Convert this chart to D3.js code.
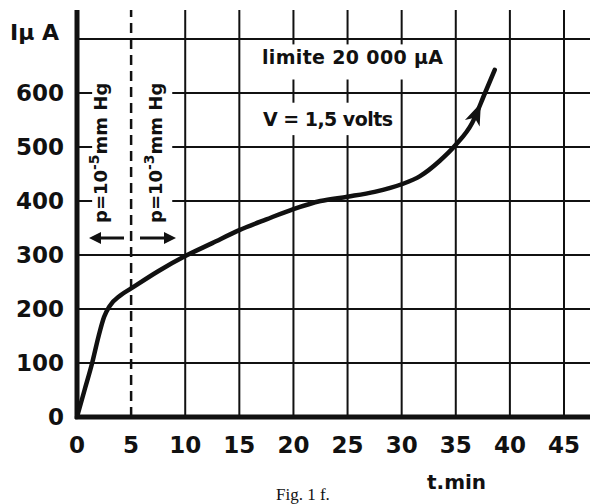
<!DOCTYPE html>
<html>
<head>
<meta charset="utf-8">
<script src="https://cdn.jsdelivr.net/npm/d3@7"></script>
<style>
  body { margin: 0; background: #fff; }
  svg { display: block; }
  text { fill: #111; }
</style>
</head>
<body>
<svg id="chart" width="590" height="504"></svg>
<script>
// courbe I (µA) en fonction de t (min)
var tMin = [0, 0.7, 1.4, 2.0, 2.5, 3.0, 4.0, 5, 7.5, 10, 12.5, 15, 17.5, 20, 22.5, 25, 27.5, 30, 31.7, 33.5, 35, 36.5, 37.7, 38.6];
var iMicroA = [0, 50, 100, 150, 185, 205, 225, 238, 270, 298, 322, 346, 366, 385, 400, 408, 417, 431, 446, 474, 504, 544, 600, 643];

var xTicks = [0, 5, 10, 15, 20, 25, 30, 35, 40, 45];
var yTicks = [0, 100, 200, 300, 400, 500, 600];
var xGrid = [10, 15, 20, 25, 30, 35, 40, 45];
var yGrid = [100, 200, 300, 400, 500, 600, 700];
var pressureLimit = 5;

var svg = d3.select("#chart");
var ink = "#111";

var x = d3.scaleLinear().domain([0, 45]).range([77, 564]);
var y = d3.scaleLinear().domain([0, 600]).range([417, 93]);

var xMax = x.invert(590), yMax = y.invert(10);

// grille
var grid = svg.append("g").attr("stroke", ink).attr("stroke-width", 2);
grid.selectAll("line.v").data(xGrid).enter().append("line")
    .attr("x1", function(d) { return x(d); }).attr("x2", function(d) { return x(d); })
    .attr("y1", y(0)).attr("y2", y(yMax));
grid.selectAll("line.h").data(yGrid).enter().append("line")
    .attr("x1", x(0)).attr("x2", x(xMax))
    .attr("y1", function(d) { return y(d); }).attr("y2", function(d) { return y(d); });

// fonds blancs derriere les textes
function whiteBox(x0, y0, x1, y1) {
    svg.append("rect").attr("x", x0).attr("y", y0)
        .attr("width", x1 - x0).attr("height", y1 - y0).attr("fill", "#fff");
}
whiteBox(x(1.4), y(655), x(8.8), y(318));
whiteBox(x(16.5), y(690), x(34.3), y(625));
whiteBox(x(16.5), y(582), x(29.3), y(522));

// limite de pression en tirets
svg.append("line")
    .attr("x1", x(pressureLimit)).attr("x2", x(pressureLimit))
    .attr("y1", y(0)).attr("y2", y(yMax))
    .attr("stroke", ink).attr("stroke-width", 2.5)
    .attr("stroke-dasharray", "10,6");

// axes epais
svg.append("line").attr("x1", x(0)).attr("x2", x(0))
    .attr("y1", y(0) + 2).attr("y2", y(yMax))
    .attr("stroke", ink).attr("stroke-width", 5);
svg.append("line").attr("x1", x(0) - 2).attr("x2", x(xMax))
    .attr("y1", y(0)).attr("y2", y(0))
    .attr("stroke", ink).attr("stroke-width", 5);

// graduations
var tickFont = "'DejaVu Sans', sans-serif";
svg.append("g").selectAll("text").data(xTicks).enter().append("text")
    .attr("x", function(d) { return x(d); })
    .attr("y", y(0) + 36)
    .attr("text-anchor", "middle")
    .attr("font-family", tickFont).attr("font-weight", "bold").attr("font-size", 23)
    .text(function(d) { return d; });
svg.append("g").selectAll("text").data(yTicks).enter().append("text")
    .attr("x", 64)
    .attr("y", function(d) { return y(d) + 8; })
    .attr("text-anchor", "end")
    .attr("font-family", tickFont).attr("font-weight", "bold").attr("font-size", 23)
    .text(function(d) { return d; });

// titres des axes
svg.append("text").attr("x", 10).attr("y", 40)
    .attr("font-family", tickFont).attr("font-weight", "bold").attr("font-size", 22)
    .text("Iµ A");
svg.append("text").attr("x", 427).attr("y", 489)
    .attr("font-family", tickFont).attr("font-weight", "bold").attr("font-size", 20)
    .text("t.min");
svg.append("text").attr("x", 276).attr("y", 500)
    .attr("font-family", "'Liberation Serif', serif").attr("font-size", 17)
    .text("Fig. 1 f.");

// textes de l'experience
svg.append("text").attr("x", 262).attr("y", 64)
    .attr("font-family", tickFont).attr("font-weight", "bold").attr("font-size", 19)
    .attr("textLength", 181)
    .text("limite 20 000 µA");
svg.append("text").attr("x", 263).attr("y", 126)
    .attr("font-family", tickFont).attr("font-weight", "bold").attr("font-size", 19)
    .attr("textLength", 130)
    .text("V = 1,5 volts");

function pressureLabel(cx, expo) {
    var t = svg.append("text")
        .attr("transform", "translate(" + cx + "," + 223 + ") rotate(-90)")
        .attr("font-family", tickFont).attr("font-weight", "bold").attr("font-size", 18);
    t.append("tspan").text("p=10");
    t.append("tspan").attr("dy", -8).attr("font-size", 14).text("-" + expo.slice(1));
    t.append("tspan").attr("dy", 8).text("mm Hg");
}
pressureLabel(107, "-5");
pressureLabel(162, "-3");

// fleches de pression
function arrow(x0, x1, yy) {
    var dir = x1 > x0 ? 1 : -1;
    svg.append("line").attr("x1", x0).attr("x2", x1 - dir * 8)
        .attr("y1", yy).attr("y2", yy)
        .attr("stroke", ink).attr("stroke-width", 3);
    svg.append("path")
        .attr("d", "M" + x1 + "," + yy + "L" + (x1 - dir * 12) + "," + (yy - 6) + "L" + (x1 - dir * 12) + "," + (yy + 6) + "Z")
        .attr("fill", ink);
}
arrow(124, 89, 238);
arrow(140, 176, 238);

// courbe
var pts = tMin.map(function(t, i) { return [t, iMicroA[i]]; });
var line = d3.line()
    .x(function(d) { return x(d[0]); })
    .y(function(d) { return y(d[1]); })
    .curve(d3.curveMonotoneX);
var curve = svg.append("path").datum(pts)
    .attr("d", line)
    .attr("fill", "none").attr("stroke", ink)
    .attr("stroke-width", 4.5).attr("stroke-linecap", "round");

// tete de fleche sur la courbe
var node = curve.node();
var len = node.getTotalLength();
var p1 = node.getPointAtLength(len - 36), p0 = node.getPointAtLength(len - 54);
var ang = Math.atan2(p1.y - p0.y, p1.x - p0.x) * 180 / Math.PI;
svg.append("path")
    .attr("d", "M0,0L-22,-8L-16,0L-22,8Z")
    .attr("transform", "translate(" + p1.x + "," + p1.y + ") rotate(" + ang + ")")
    .attr("fill", ink);
</script>
</body>
</html>
